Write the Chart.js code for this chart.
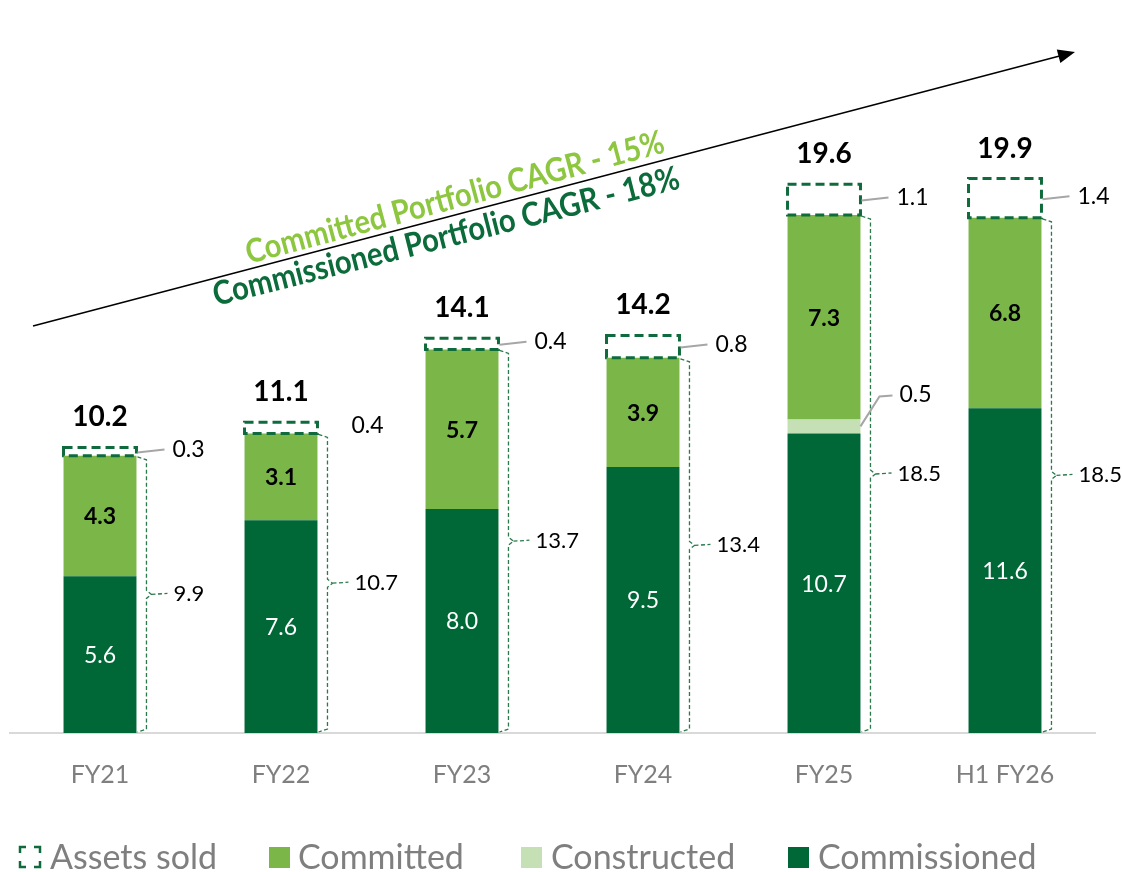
<!DOCTYPE html>
<html><head><meta charset="utf-8">
<script src="https://cdn.jsdelivr.net/npm/chart.js@4/dist/chart.umd.min.js"></script>
<style>html,body{margin:0;padding:0;background:#fff}#wrap{width:1122px;height:872px}</style>
</head><body><div id="wrap"><canvas id="c" width="1122" height="872"></canvas></div>
<script>
const categories = ['FY21','FY22','FY23','FY24','FY25','H1 FY26'];
const commissioned = [5.6, 7.6, 8.0, 9.5, 10.7, 11.6];
const constructed = [0, 0, 0, 0, 0.5, 0];
const committed = [4.3, 3.1, 5.7, 3.9, 7.3, 6.8];
const assetsSold = [0.3, 0.4, 0.4, 0.8, 1.1, 1.4];
const totalLabels = ['10.2', '11.1', '14.1', '14.2', '19.6', '19.9'];
const committedTotalLabels = ['9.9', '10.7', '13.7', '13.4', '18.5', '18.5'];
const cagrTexts = ['Committed Portfolio CAGR - 15%', 'Commissioned Portfolio CAGR - 18%'];
const legendLabels = ['Assets sold', 'Committed', 'Constructed', 'Commissioned'];

const C_COMM = '#006837', C_CONS = '#c5e0b4', C_COMMIT = '#7ab648', C_DASH = '#0f6b3b';
const FONT = 'Lato, "Open Sans", sans-serif';

const annot = {
  id: 'annot',
  afterDatasetsDraw(chart) {
    const ctx = chart.ctx, ys = chart.scales.y;
    const m0 = chart.getDatasetMeta(0), m1 = chart.getDatasetMeta(1), m2 = chart.getDatasetMeta(2), m3 = chart.getDatasetMeta(3);
    ctx.save();
    ctx.textAlign = 'center'; ctx.textBaseline = 'middle';
    for (let j = 0; j < categories.length; j++) {
      const b0 = m0.data[j], b1 = m1.data[j], b2 = m2.data[j], b3 = m3.data[j];
      const left = b3.x - b3.width / 2, right = b3.x + b3.width / 2;
      // segment labels
      ctx.fillStyle = '#fff'; ctx.font = '23px ' + FONT; ctx.textAlign = 'center';
      ctx.fillText(commissioned[j].toFixed(1), b0.x, (b0.y + b0.base) / 2 + 1);
      ctx.fillStyle = '#000'; ctx.font = 'bold 23px ' + FONT;
      ctx.fillText(committed[j].toFixed(1), b2.x, (b2.y + b2.base) / 2 + 1);
      // dashed box for assets sold
      ctx.save();
      ctx.setLineDash([9, 5]); ctx.lineWidth = 3; ctx.strokeStyle = C_DASH;
      ctx.strokeRect(left, b3.y, b3.width, b3.base - b3.y);
      ctx.restore();
      // total
      ctx.fillStyle = '#000'; ctx.font = 'bold 28px ' + FONT;
      ctx.fillText(totalLabels[j], b3.x, b3.y - 30);
      // sold label + leader
      const cy = (b3.y + b3.base) / 2;
      ctx.save();
      ctx.strokeStyle = '#a6a6a6'; ctx.lineWidth = 2;
      if (j !== 1) {
        ctx.beginPath(); ctx.moveTo(right + 1, cy + 1); ctx.lineTo(right + 28, cy - 2); ctx.stroke();
      }
      ctx.restore();
      ctx.fillStyle = '#000'; ctx.font = '23px ' + FONT; ctx.textAlign = 'left';
      ctx.fillText(assetsSold[j].toFixed(1), right + (j === 1 ? 34 : 36), cy - 2);
      // bracket
      const yTop = b2.y, yBot = ys.getPixelForValue(0);
      const xb = right + 10, ymid = (yTop + yBot) / 2;
      ctx.save();
      ctx.setLineDash([4, 2.5]); ctx.lineWidth = 1.3; ctx.strokeStyle = '#2a7a4b';
      ctx.beginPath();
      ctx.moveTo(right + 1, yTop + 1);
      ctx.lineTo(xb, yTop + 4);
      ctx.lineTo(xb, ymid - 4);
      ctx.lineTo(xb + 5, ymid);
      ctx.lineTo(xb, ymid + 4);
      ctx.lineTo(xb, yBot - 4);
      ctx.lineTo(right + 1, yBot - 1);
      ctx.moveTo(xb + 5, ymid); ctx.lineTo(xb + 21, ymid - 1);
      ctx.stroke();
      ctx.restore();
      ctx.fillStyle = '#000'; ctx.font = '22px ' + FONT; ctx.textAlign = 'left';
      ctx.fillText(committedTotalLabels[j], xb + 27, ymid);
      // constructed label
      if (constructed[j] > 0) {
        const cyc = (b1.y + b1.base) / 2;
        ctx.save();
        ctx.strokeStyle = '#a6a6a6'; ctx.lineWidth = 2;
        ctx.beginPath(); ctx.moveTo(right, cyc); ctx.lineTo(right + 19, cyc - 30); ctx.lineTo(right + 32, cyc - 31); ctx.stroke();
        ctx.restore();
        ctx.fillStyle = '#000'; ctx.font = '23px ' + FONT;
        ctx.fillText(constructed[j].toFixed(1), right + 39, cyc - 32);
      }
    }
    ctx.restore();
  },
  afterDraw(chart) {
    const ctx = chart.ctx;
    ctx.save();
    // arrow
    const x1 = 33, y1 = 326, x2 = 1075, y2 = 52;
    const ang = Math.atan2(y2 - y1, x2 - x1);
    ctx.strokeStyle = '#000'; ctx.fillStyle = '#000'; ctx.lineWidth = 1.5;
    ctx.beginPath(); ctx.moveTo(x1, y1); ctx.lineTo(x2 - 14 * Math.cos(ang), y2 - 14 * Math.sin(ang)); ctx.stroke();
    ctx.beginPath();
    ctx.moveTo(x2, y2);
    ctx.lineTo(x2 - 17 * Math.cos(ang) + 7 * Math.sin(ang), y2 - 17 * Math.sin(ang) - 7 * Math.cos(ang));
    ctx.lineTo(x2 - 17 * Math.cos(ang) - 7 * Math.sin(ang), y2 - 17 * Math.sin(ang) + 7 * Math.cos(ang));
    ctx.closePath(); ctx.fill();
    // CAGR texts (baseline start point, angle, target length)
    const specs = [
      {t: cagrTexts[0], x: 249, y: 264, a: -15.0, w: 432, c: '#8dc63f'},
      {t: cagrTexts[1], x: 216, y: 306, a: -14.2, w: 480, c: '#0b6b3a'}
    ];
    for (const s of specs) {
      ctx.save();
      ctx.font = 'bold 33px ' + FONT;
      const mw = ctx.measureText(s.t).width;
      ctx.translate(s.x, s.y); ctx.rotate(s.a * Math.PI / 180); ctx.scale(s.w / mw, 1);
      ctx.fillStyle = s.c; ctx.textAlign = 'left'; ctx.textBaseline = 'alphabetic';
      ctx.fillText(s.t, 0, 0);
      ctx.restore();
    }
    // legend
    const ly = 857;
    ctx.font = '34px ' + FONT; ctx.textAlign = 'left'; ctx.textBaseline = 'middle';
    const items = [
      {x: 19, tx: 50, type: 'dash'},
      {x: 269, tx: 298, c: C_COMMIT},
      {x: 521, tx: 551, c: C_CONS},
      {x: 788, tx: 818, c: C_COMM}
    ];
    items.forEach((it, i) => {
      if (it.type === 'dash') {
        ctx.save(); ctx.strokeStyle = C_DASH; ctx.lineWidth = 2.5;
        const x0 = it.x + 1, y0 = ly - 10, s = 20, a = 6;
        ctx.beginPath();
        ctx.moveTo(x0, y0 + a); ctx.lineTo(x0, y0); ctx.lineTo(x0 + a, y0);
        ctx.moveTo(x0 + s - a, y0); ctx.lineTo(x0 + s, y0); ctx.lineTo(x0 + s, y0 + a);
        ctx.moveTo(x0 + s, y0 + s - a); ctx.lineTo(x0 + s, y0 + s); ctx.lineTo(x0 + s - a, y0 + s);
        ctx.moveTo(x0 + a, y0 + s); ctx.lineTo(x0, y0 + s); ctx.lineTo(x0, y0 + s - a);
        ctx.stroke(); ctx.restore();
      } else {
        ctx.fillStyle = it.c; ctx.fillRect(it.x, ly - 10, 21, 21);
      }
      ctx.fillStyle = '#7f7f7f';
      ctx.fillText(legendLabels[i], it.tx, ly + 1);
    });
    ctx.restore();
  }
};

function draw() {
  new Chart(document.getElementById('c'), {
    type: 'bar',
    data: {
      labels: categories,
      datasets: [
        {label: 'Commissioned', data: commissioned, backgroundColor: C_COMM},
        {label: 'Constructed', data: constructed, backgroundColor: C_CONS},
        {label: 'Committed', data: committed, backgroundColor: C_COMMIT},
        {label: 'Assets sold', data: assetsSold, backgroundColor: 'rgba(255,255,255,0)'}
      ]
    },
    options: {
      responsive: false, animation: false,
      layout: {padding: {left: 9.5, right: 26.5, top: 5, bottom: 0}},
      datasets: {bar: {categoryPercentage: 1, barPercentage: 0.403, borderWidth: 0}},
      plugins: {legend: {display: false}, tooltip: {enabled: false}},
      scales: {
        x: {
          stacked: true,
          grid: {display: false, drawTicks: false},
          border: {display: true, color: '#d9d9d9', width: 2},
          ticks: {font: {family: FONT, size: 25}, color: '#7f7f7f', padding: 27, maxRotation: 0},
          afterFit(s) { s.height = 139; }
        },
        y: {stacked: true, display: false, min: 0, max: 26}
      }
    },
    plugins: [annot]
  });
}
if (document.fonts && document.fonts.load) {
  Promise.all([document.fonts.load('22px Lato'), document.fonts.load('bold 22px Lato')]).then(draw, draw);
} else draw();
</script>
</body></html>
